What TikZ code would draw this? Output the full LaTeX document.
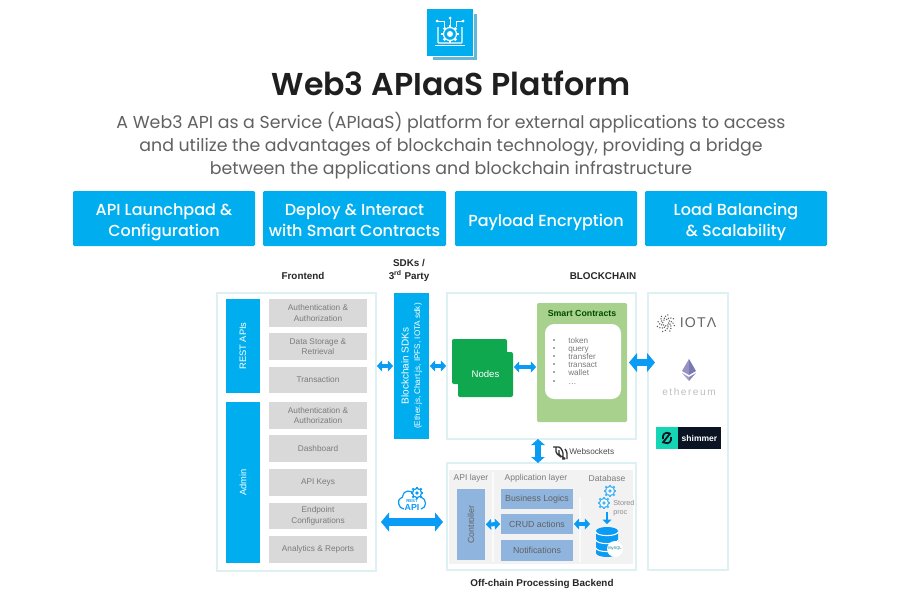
\documentclass[tikz,border=0pt]{standalone}
\usepackage{fontspec}
\setmainfont{Liberation Sans}
\newfontfamily\pop{Poppins}
\newfontfamily\popsb{Poppins SemiBold}
\newfontfamily\popm{Poppins Medium}
\usetikzlibrary{arrows.meta}
\definecolor{cblue}{HTML}{00AEEF}
\definecolor{arrowblue}{HTML}{0A9BF5}
\definecolor{frameline}{HTML}{DDF1F3}
\definecolor{rowgrey}{HTML}{D9D9D9}
\definecolor{rowtext}{HTML}{7B7B7B}
\definecolor{ngreen}{HTML}{0FA84F}
\definecolor{scgreen}{HTML}{A9D18E}
\definecolor{layerblue}{HTML}{8FB4DE}
\definecolor{bepanel}{HTML}{F2F2F2}
\definecolor{shimteal}{HTML}{14D6B4}
\definecolor{shimdark}{HTML}{0B1423}
\definecolor{ethpurple}{HTML}{7C78B4}
\tikzset{
  x=0.75pt,y=-0.75pt,
  solid box/.style={inner sep=0pt,outer sep=0pt,align=center},
  frame/.style={solid box,draw=frameline,line width=0.9pt,fill=white},
  card/.style={solid box,fill=cblue,rounded corners=1pt},
  cardtext/.style={inner sep=0pt,align=center,text=white,yshift=-2.8pt,font=\popm\fontsize{12}{15.8}\selectfont},
  bluecol/.style={solid box,fill=cblue},
  greyrow/.style={solid box,fill=rowgrey,text=rowtext,font=\fontsize{6.2}{8}\selectfont},
  layerrow/.style={solid box,fill=layerblue,text=rowtext!80!black,font=\fontsize{6.6}{8}\selectfont},
  heading/.style={inner sep=0pt,font=\bfseries\fontsize{7.4}{9.8}\selectfont,text=black!85,align=center},
  small/.style={inner sep=0pt,font=\fontsize{6.4}{8}\selectfont,text=rowtext,align=center},
  bi/.style={{Triangle[length=4pt,width=8pt]}-{Triangle[length=4pt,width=8pt]},draw=arrowblue,line width=3pt,shorten >=0.6pt,shorten <=0.6pt},
  bibig/.style={{Triangle[length=6pt,width=14pt]}-{Triangle[length=6pt,width=14pt]},draw=arrowblue,line width=5.5pt},
  coldtext/.style={inner sep=0pt,text=white,align=center,rotate=90},
  listitem/.style={anchor=base west,inner sep=0pt,font=\fontsize{6.1}{8}\selectfont,text=rowtext},
}
\newcommand{\bx}[7]{\node[#2,minimum width={(#5-#3)*0.75pt},minimum height={(#6-#4)*0.75pt}] (#1) at ({(#3+#5)/2},{(#4+#6)/2}) {#7};}
\newcommand{\gearicon}[3]{%
  \foreach \a in {0,45,...,315}{\fill[#3] (#1,#2) ++(\a-13:4.4) -- ++(\a:2.2) -- ++(\a+90:2) -- ++(\a-180:2.2) -- cycle;}
  \draw[#3,line width=0.9pt,fill=white] (#1,#2) circle (4.6);
  \fill[#3] (#1,#2) circle (1.8);}
\begin{document}
\begin{tikzpicture}
\useasboundingbox (0,0) rectangle (900,600);
\fill[white] (0,0) rectangle (900,600);
% top icon
\fill[cyan!60!teal!70] (433,14) rectangle (477,60);
\fill[white] (431,12) rectangle (474,57);
\bx{logo}{bluecol}{427}{9}{473}{56}{}
\draw[white,line width=0.8pt,rounded corners=0.5pt] (438,27) -- (438,43) -- (462,43) -- (462,27);
\draw[white,line width=0.8pt] (435,45.5) -- (465,45.5);
\foreach \a in {0,45,...,315}{\fill[white] (450,34) ++(\a-11:6.3) -- ++(\a:2.6) -- ++(\a+90:2.6) -- ++(\a-180:2.6) -- cycle;}
\draw[white,line width=0.9pt,fill=cblue] (450,34) circle (6.5);
\fill[white] (450,34) circle (3);
\draw[white,line width=0.7pt] (450,25) -- (450,19) (444,27) -- (444,21) -- (438,21) (456,27) -- (456,21) -- (462,21);
\fill[white] (450,18) circle (1.5) (437,21) circle (1.5) (463,21) circle (1.5);
% title
\node[inner sep=0pt,font=\popsb\fontsize{23.7}{30}\selectfont,text=black!88] (title) at (451,83.5) {Web3 APIaaS Platform};
\node[inner sep=0pt,font=\pop\fontsize{13.02}{17.25}\selectfont,text=black!62,align=center] (desc) at (451,145.7) {A Web3 API as a Service (APIaaS) platform for external applications to access\\and utilize the advantages of blockchain technology, providing a bridge\\between the applications and blockchain infrastructure};
% cards
\bx{c1}{card}{73}{191}{255}{246}{}
\bx{c2}{card}{263}{191}{446}{246}{}
\bx{c3}{card}{455}{191}{637}{246}{}
\bx{c4}{card}{645}{191}{827}{246}{}
\node[cardtext] (c1t) at (c1.center) {API Launchpad \&\\Configuration};
\node[cardtext,yshift=1.3pt] (c2t) at (c2.center) {Deploy \& Interact\\with Smart Contracts};
\node[cardtext] (c3t) at (c3.center) {Payload Encryption};
\node[cardtext] (c4t) at (c4.center) {Load Balancing\\\& Scalability};
% headings
\node[heading] (hfe) at (303,276) {Frontend};
\node[heading] (hsdk) at (409,270) {SDKs /\\3\textsuperscript{rd} Party};
\node[heading] (hbc) at (603,276) {BLOCKCHAIN};
\node[heading] (hbe) at (542,584) {Off-chain Processing Backend};
% frontend
\bx{fe}{frame}{217}{293}{376}{571}{}
\bx{rest}{bluecol}{226}{299}{260}{393}{}
\node[coldtext,font=\fontsize{7}{8}\selectfont] (restt) at (rest.center) {REST APIs};
\bx{admin}{bluecol}{226}{402}{260}{563}{}
\node[coldtext,font=\fontsize{7}{8}\selectfont] (admint) at (admin.center) {Admin};
\bx{r1}{greyrow}{269}{299}{367}{327}{Authentication \&\\Authorization}
\bx{r2}{greyrow}{269}{333}{367}{360}{Data Storage \&\\Retrieval}
\bx{r3}{greyrow}{269}{367}{367}{393}{Transaction}
\bx{r4}{greyrow}{269}{402}{367}{429}{Authentication \&\\Authorization}
\bx{r5}{greyrow}{269}{435}{367}{462}{Dashboard}
\bx{r6}{greyrow}{269}{469}{367}{496}{API Keys}
\bx{r7}{greyrow}{269}{503}{367}{529}{Endpoint\\Configurations}
\bx{r8}{greyrow}{269}{536}{367}{563}{Analytics \& Reports}
% SDK
\bx{sdk}{bluecol}{394}{293}{429}{439}{}
\node[coldtext,font=\fontsize{7.5}{8.6}\selectfont] (sdkt) at (sdk.center) {Blockchain SDKs\\{\fontsize{6.1}{8.6}\selectfont (Ether.js, Chart.js, IPFS, IOTA sdk)}};
% blockchain
\bx{bc}{frame}{447}{293}{636}{439}{}
\bx{n1}{solid box,fill=ngreen,rounded corners=1.5pt}{452}{339}{507}{384}{}
\bx{n2}{solid box,fill=ngreen,rounded corners=1.5pt,text=white,font=\fontsize{7.2}{9}\selectfont}{458}{352}{513}{397}{Nodes}
\bx{sc}{solid box,fill=scgreen,rounded corners=1pt}{537}{303}{627}{422}{}
\node[inner sep=0pt,font=\bfseries\fontsize{6.6}{8}\selectfont,text=black!70!green] (sct) at (582,313) {Smart Contracts};
\bx{sci}{solid box,fill=white,rounded corners=7pt}{545}{324}{621}{399}{}
\foreach \yy in {340,348,356,364,372,381}{\fill[rowtext!60!black] (554,\yy) circle (0.9);}
\node[listitem] (li1) at (568,343) {token};
\node[listitem] (li2) at (568,351) {query};
\node[listitem] (li3) at (568,359) {transfer};
\node[listitem] (li4) at (568,367) {transact};
\node[listitem] (li5) at (568,375) {wallet};
\node[listitem] (li6) at (568,384) {…};
% chains
\bx{ch}{frame}{648}{293}{728}{570}{}
\foreach \i in {0,...,34}{
  \pgfmathsetmacro{\ang}{\i*47}
  \pgfmathsetmacro{\rad}{2.5+\i*0.2}
  \fill[black!65] ({666+\rad*cos(\ang)},{323+\rad*sin(\ang)}) circle (0.75);
}
\node[inner sep=0pt,font=\fontsize{10.6}{12}\selectfont,text=black!60] (iota) at (698,323) {\addfontfeature{LetterSpace=8}IOTΛ};
\fill[ethpurple!80] (689,359) -- (682,371) -- (689,375) -- cycle;
\fill[ethpurple] (689,359) -- (696,371) -- (689,375) -- cycle;
\fill[ethpurple!70] (682,373) -- (689,381) -- (689,377) -- cycle;
\fill[ethpurple!90] (696,373) -- (689,381) -- (689,377) -- cycle;
\node[inner sep=0pt,font=\fontsize{7.6}{9}\selectfont,text=black!25] (eth) at (689,392) {\addfontfeature{LetterSpace=15}ethereum};
\bx{sh1}{solid box,fill=shimteal}{656}{427}{678}{449}{}
\bx{sh2}{solid box,fill=shimdark,text=white,font=\bfseries\fontsize{6.4}{8}\selectfont}{678}{427}{721}{449}{shimmer}
\draw[shimdark,line width=1.3pt] (670,433.5) .. controls (665,431) and (662,435) .. (663,439) (664,442.5) .. controls (669,445) and (672,441) .. (671,437) (670.5,433) -- (662.5,443);
% backend
\bx{be}{frame}{447}{463}{636}{570}{}
\bx{bep}{solid box,fill=bepanel}{449}{470}{633}{564}{}
\draw[white!60!bepanel,line width=0.8pt] (493,472) -- (493,562) (580,497) -- (580,562);
\node[small] (l1) at (471,478) {API layer};
\node[small] (l2) at (536,478) {Application layer};
\node[small] (l3) at (607,478) {Database};
\bx{ctl}{solid box,fill=layerblue}{457}{489}{485}{560}{}
\node[coldtext,text=rowtext!80!black,font=\fontsize{6.6}{8}\selectfont] (ctlt) at (ctl.center) {Controller};
\bx{bl}{layerrow}{501}{489}{573}{509}{Business Logics}
\bx{crud}{layerrow}{501}{514}{573}{534}{CRUD actions}
\bx{nt}{layerrow}{501}{540}{573}{561}{Notifications}
% database
\gearicon{610}{491}{arrowblue!75}
\gearicon{604}{503}{arrowblue!75}
\node[anchor=west,inner sep=0pt,font=\fontsize{5.4}{7}\selectfont,text=black!45,align=left] (sp) at (613,508) {Stored\\proc};
\coordinate (gearb) at (607,512);
\coordinate (dbtop) at (607,524);
\draw[-{Triangle[length=3.2pt,width=6.5pt]},arrowblue,line width=2pt] (gearb) -- (dbtop);
\fill[arrowblue] (596,531) -- (596,553) arc (180:0:11 and 4) -- (618,531) arc (0:-180:11 and 4) -- cycle;
\draw[white,line width=0.8pt] (596,532) arc (180:0:11 and 3.6) (596,540) arc (180:0:11 and 3.6) (596,548) arc (180:0:11 and 3.6);
\node[circle,fill=white,inner sep=0pt,minimum size=12pt,font=\fontsize{3}{4}\selectfont,text=teal] (mysql) at (615,549) {MySQL};
% rest icon
\draw[arrowblue,line width=0.9pt,rounded corners=2pt] (404,509) .. controls (398,509) and (397,499) .. (403,498) .. controls (403,491) and (411,489) .. (414,494) (421,497) .. controls (427,499) and (427,508) .. (421,509);
\gearicon{417}{493}{arrowblue}
\node[inner sep=0pt,font=\bfseries\fontsize{3.2}{4}\selectfont,text=arrowblue] (rt) at (412,501.5) {REST};
\node[inner sep=0pt,font=\bfseries\fontsize{6.6}{8}\selectfont,text=arrowblue] (ra) at (412,507.5) {API};
% websocket icon
\draw[black!80,line width=1pt,rounded corners=1pt] (553,447) -- (560,447) -- (563,452) -- (563,459) (556,447) -- (556,453) -- (561,457) (559,450) -- (559,455) -- (566,459) -- (562,459) (565,449) -- (567,452) -- (567,459);
\node[anchor=west,inner sep=0pt,font=\fontsize{6.2}{8}\selectfont,text=black!70] (ws) at (569,452) {Websockets};
% connectors
\draw[bi] (fe.east |- sdk.center) -- (sdk.west);
\draw[bi] (sdk.east) -- (bc.west);
\draw[bi] (n2.east |- 0,367) -- (sc.west |- 0,367);
\path (sc.east) ++(2,0) coordinate (ba) (ch.west |- sc.center) ++(7,0) coordinate (bb);
\draw[bibig] (ba) -- (bb);
\path (fe.east |- 0,522) ++(5,0) coordinate (ca) (be.west |- 0,522) ++(-4,0) coordinate (cb);
\draw[bibig] (ca) -- (cb);
\draw[{Triangle[length=4.5pt,width=10pt]}-{Triangle[length=4.5pt,width=10pt]},draw=arrowblue,line width=4pt] (bc.south -| 538,0) -- (be.north -| 538,0);
\draw[bi] (ctl.east) -- (crud.west);
\coordinate (dbin) at (591,524);
\draw[bi] (crud.east) -- (dbin);
\end{tikzpicture}
\end{document}
